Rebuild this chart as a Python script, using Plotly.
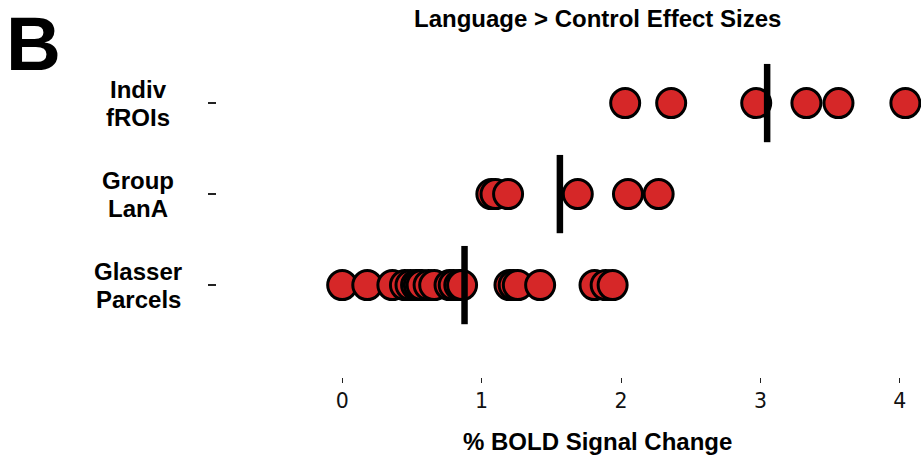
import plotly.graph_objects as go

# Category rows (bottom to top) and their two-line labels
categories = ["Glasser Parcels", "Group LanA", "Indiv fROIs"]
label_lines = [["Glasser", "Parcels"], ["Group", "LanA"], ["Indiv", "fROIs"]]

# Language > Control effect sizes (% BOLD signal change) per region set
glasser = [0.0, 0.18, 0.36, 0.45, 0.49, 0.53, 0.55, 0.57, 0.62, 0.66, 0.77,
           0.80, 0.84, 0.86, 1.20, 1.23, 1.26, 1.42, 1.81, 1.89, 1.94]
group_lana = [1.07, 1.10, 1.19, 1.69, 2.05, 2.27]
indiv_frois = [2.03, 2.36, 2.97, 3.33, 3.56, 4.04]
values = [glasser, group_lana, indiv_frois]

x_ticks = [0, 1, 2, 3, 4]

RED = "#d62728"
HALF = 0.43  # half-height of the mean bar, in row units

fig = go.Figure()

# Individual region values, drawn left to right so right-hand dots sit on top
for i, vals in enumerate(values):
    vals = sorted(vals)
    fig.add_trace(go.Scatter(
        x=vals, y=[i] * len(vals), mode="markers",
        marker=dict(size=29, color=RED, line=dict(color="black", width=3)),
        showlegend=False, hoverinfo="x", cliponaxis=False,
    ))

# Vertical bar at each row's mean
for i, vals in enumerate(values):
    m = sum(vals) / len(vals)
    fig.add_trace(go.Scatter(
        x=[m, m], y=[i - HALF, i + HALF], mode="lines",
        line=dict(color="black", width=6.5),
        showlegend=False, hoverinfo="skip",
    ))

annotations = []
for i, lines in enumerate(label_lines):
    for j, line in enumerate(lines):
        annotations.append(dict(
            text=line, xref="paper", yref="y", x=-0.112,
            y=i + (0.154 if j == 0 else -0.154),
            xanchor="center", yanchor="middle", showarrow=False,
            font=dict(family="Liberation Sans", size=24, color="black", weight="bold"),
        ))

annotations.append(dict(
    text="Language > Control Effect Sizes", xref="paper", yref="paper",
    x=0.541, y=1.063, xanchor="center", yanchor="middle", showarrow=False,
    font=dict(family="Liberation Sans", size=24, color="black", weight="bold"),
))
annotations.append(dict(
    text="% BOLD Signal Change", xref="paper", yref="paper",
    x=0.541, y=-0.19, xanchor="center", yanchor="middle", showarrow=False,
    font=dict(family="Liberation Sans", size=24, color="black", weight="bold"),
))
# Panel letter, anchored to the top edge of the figure
annotations.append(dict(
    text="B", xref="paper", yref="paper",
    x=(33 - 217) / 704, y=(377 - 0) / 337, xanchor="center", yanchor="top",
    showarrow=False, borderpad=0,
    font=dict(family="Liberation Sans", size=76, color="black", weight="bold"),
))

fig.update_layout(
    width=921, height=455,
    margin=dict(l=217, r=0, t=40, b=78),
    paper_bgcolor="white", plot_bgcolor="white",
    annotations=annotations,
    xaxis=dict(
        range=[-0.898, 4.152], tickvals=x_ticks, ticktext=[str(t) for t in x_ticks],
        showgrid=False, zeroline=False, showline=False,
        ticks="outside", ticklen=5, tickwidth=1.3, tickcolor="#222",
        tickfont=dict(family="DejaVu Sans", size=20.5, color="#111"),
        fixedrange=True,
    ),
    yaxis=dict(
        range=[-1.01, 2.693], tickvals=[0, 1, 2], showticklabels=False,
        showgrid=False, zeroline=False, showline=False,
        ticks="outside", ticklen=8, tickwidth=1.5, tickcolor="#222",
        fixedrange=True,
    ),
)

fig.write_html("out.html")
